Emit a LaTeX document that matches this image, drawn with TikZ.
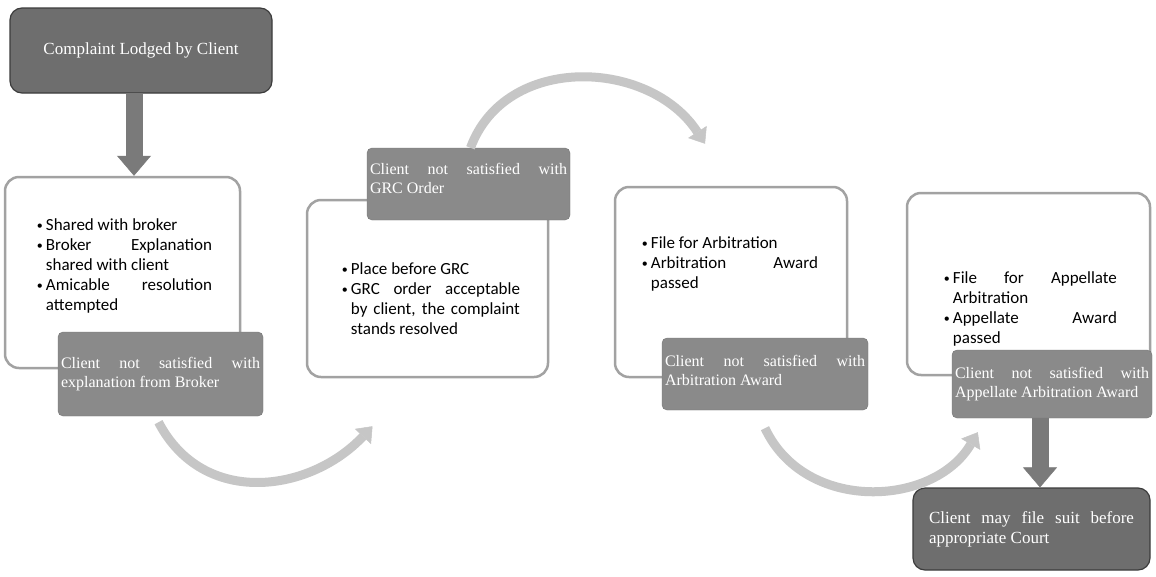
\documentclass[tikz,border=0pt]{standalone}
\usepackage{fontspec}
\usepackage{tikz}
\usetikzlibrary{positioning}
\usetikzlibrary{arrows.meta}
\newfontfamily\listfont{Carlito}
\newfontfamily\notefont{Liberation Serif}
\definecolor{rimgray}{HTML}{A2A2A2}
\definecolor{notegray}{HTML}{8A8A8A}
\definecolor{headgray}{HTML}{6E6E6E}
\definecolor{shaftgray}{HTML}{7A7A7A}
\definecolor{arcgray}{HTML}{C6C6C6}
\newcommand{\pointitem}[1]{\par\noindent\hangindent=9pt\hangafter=1%
  \makebox[9pt][l]{\raisebox{1pt}{\fontsize{12}{12}\selectfont\textbullet}}#1\par}
\tikzset{
  list_box/.style = {draw=rimgray, line width=2.5pt, rounded corners=14pt,
    fill=white},
  list_text/.style = {inner sep=0pt, align=justify,
    font=\listfont\fontsize{17}{20}\selectfont},
  note_node/.style = {fill=notegray, draw=notegray!85!black, rounded corners=5pt,
    text=white, inner sep=2pt, align=justify,
    font=\notefont\fontsize{16}{19}\selectfont},
  head_node/.style = {note_node, fill=headgray, draw=headgray!55!black,
    line width=1.2pt, rounded corners=12pt,
    font=\notefont\fontsize{17}{20}\selectfont},
  block_arrow/.style = {draw=shaftgray, line width=17pt,
    -{Triangle[width=34pt,length=20pt,line width=0.5pt]}},
  arc_arrow/.style = {draw=arcgray, line width=9pt,
    -{Triangle[width=22pt,length=14pt,line width=0.5pt]}}
}
\begin{document}
\begin{tikzpicture}[x=1pt, y=-1pt]
  \path[use as bounding box, fill=white] (0,0) rectangle (1156,576);

  \node (box1) [list_box, minimum width=235pt, minimum height=191pt] at (122.5,272.5) {};
  \node (box2) [list_box, minimum width=241pt, minimum height=177pt] at (427.5,288.5) {};
  \node (box3) [list_box, minimum width=232pt, minimum height=190pt] at (731,282) {};
  \node (box4) [list_box, minimum width=243pt, minimum height=182pt] at (1028.5,284) {};

  \node (list1) [list_text, text width=175pt, below right=35pt and 33pt of box1.north west] {%
    \pointitem{Shared with broker}
    \pointitem{Broker Explanation\linebreak shared with client}
    \pointitem{Amicable resolution\linebreak attempted}};
  \node (list2) [list_text, text width=178pt, below right=56pt and 36pt of box2.north west] {%
    \pointitem{Place before GRC}
    \pointitem{GRC order acceptable\linebreak by client, the complaint\linebreak stands resolved}};
  \node (list3) [list_text, text width=176pt, below right=43pt and 28pt of box3.north west] {%
    \pointitem{File for Arbitration}
    \pointitem{Arbitration Award\linebreak passed}};
  \node (list4) [list_text, text width=173pt, below right=72pt and 38pt of box4.north west] {%
    \pointitem{File for Appellate\linebreak Arbitration}
    \pointitem{Appellate Award\linebreak passed}};

  \node (complaint) [head_node, align=center, minimum width=262pt, minimum height=85pt]
    at (141,50.5) {Complaint Lodged by Client};
  \node (note1) [note_node, text width=199pt, minimum width=205pt, minimum height=84pt]
    at (160.5,374) {Client not satisfied with\linebreak explanation from Broker};
  \node (note2) [note_node, text width=197pt, minimum width=203pt, minimum height=72pt]
    at (468.5,184) {Client not satisfied with\linebreak GRC Order\par\vspace{12pt}};
  \node (note3) [note_node, text width=200pt, minimum width=206pt, minimum height=72pt]
    at (765,374) {Client not satisfied with\linebreak Arbitration Award\par\vspace{8pt}};
  \node (note4) [note_node, text width=194pt, minimum width=200pt, minimum height=68pt]
    at (1052,384) {Client not satisfied with\linebreak Appellate Arbitration Award};
  \node (court) [head_node, text width=205pt, minimum width=237pt, minimum height=82pt]
    at (1031.5,529) {Client may file suit before\linebreak appropriate Court};

  \draw [block_arrow] ([xshift=-7pt]complaint.south) -- ([xshift=-7pt]complaint.south |- box1.north);
  \draw [block_arrow] ([xshift=-12pt]note4.south) -- ([xshift=-12pt]note4.south |- court.north);

  \draw [arc_arrow] ([shift={(-2pt,-6pt)}]note1.south)
    .. controls +(45,86) and +(-62,66) .. ([shift={(-55pt,-48pt)}]box2.south);
  \draw [arc_arrow] ([xshift=2pt]note2.north)
    .. controls +(35,-95) and +(-55,-85) .. ([shift={(-26pt,42pt)}]box3.north);
  \draw [arc_arrow] ([yshift=-18pt]note3.south)
    .. controls +(40,85) and +(-44,75) .. ([shift={(26pt,-14pt)}]note4.south west);
\end{tikzpicture}
\end{document}
